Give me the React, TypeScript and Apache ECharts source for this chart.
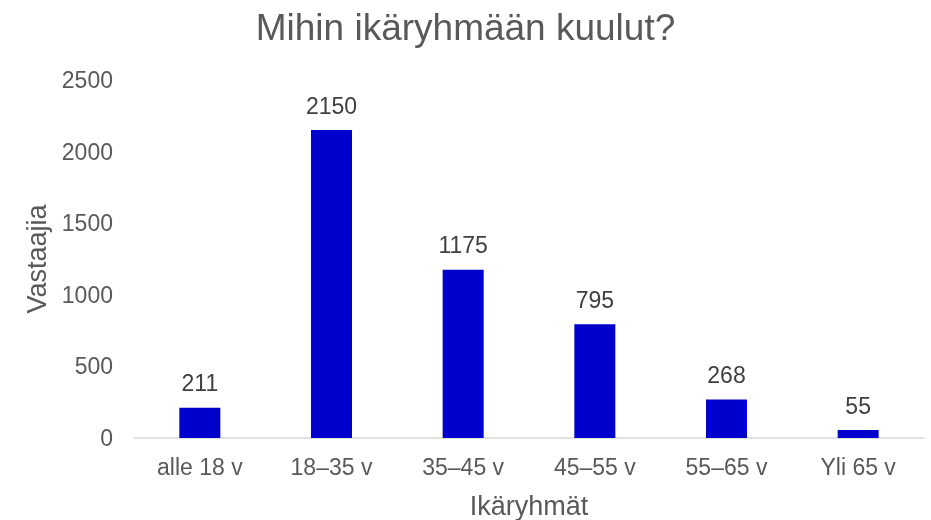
import React, { useEffect, useRef } from "react";
import * as echarts from "echarts";

const categories = ["alle 18 v", "18–35 v", "35–45 v", "45–55 v", "55–65 v", "Yli 65 v"];
const values = [211, 2150, 1175, 795, 268, 55];
const titleText = "Mihin ikäryhmään kuulut?";
const xName = "Ikäryhmät";
const yName = "Vastaajia";

export default function App() {
  const ref = useRef<HTMLDivElement>(null);
  useEffect(() => {
    const chart = echarts.init(ref.current!, null, { renderer: "svg" });
    const font = "'Liberation Sans', Arial, sans-serif";
    chart.setOption({
      animation: false,
      textStyle: { fontFamily: font },
      title: {
        text: titleText,
        left: "center",
        top: 4,
        textStyle: { fontFamily: font, fontSize: 37, fontWeight: "normal", color: "#595959" },
      },
      grid: { left: 134, right: 7, top: 80, bottom: 82, containLabel: false, outerBoundsMode: "none" },
      xAxis: {
        type: "category",
        data: categories,
        name: xName,
        nameLocation: "middle",
        nameGap: 54,
        nameTextStyle: { fontFamily: font, fontSize: 27, color: "#595959" },
        axisLine: { lineStyle: { color: "#D9D9D9", width: 1.5 } },
        axisTick: { show: false },
        axisLabel: { fontFamily: font, fontSize: 23, color: "#595959", margin: 17 },
      },
      yAxis: {
        type: "value",
        min: 0,
        max: 2500,
        interval: 500,
        name: yName,
        nameLocation: "middle",
        nameRotate: 90,
        nameGap: 82,
        nameTextStyle: { fontFamily: font, fontSize: 27, color: "#595959" },
        splitLine: { show: false },
        axisLine: { show: false },
        axisTick: { show: false },
        axisLabel: {
          fontFamily: font,
          fontSize: 23,
          color: "#595959",
          margin: 21,
          formatter: (v: number) => String(v),
        },
      },
      series: [
        {
          type: "bar",
          data: values,
          barWidth: 41,
          itemStyle: { color: "#0000CC" },
          label: {
            show: true,
            position: "top",
            distance: 13,
            fontFamily: font,
            fontSize: 23,
            color: "#404040",
          },
        },
      ],
    });
    return () => chart.dispose();
  }, []);
  return <div ref={ref} style={{ position: "fixed", left: 0, top: 0, width: 931, height: 520 }} />;
}
